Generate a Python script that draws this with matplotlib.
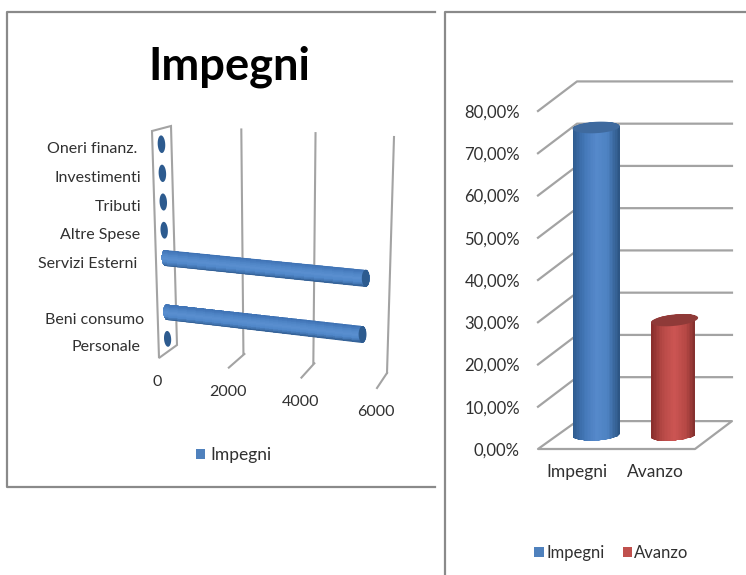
import numpy as np
import matplotlib
matplotlib.use('Agg')
import matplotlib.pyplot as plt
from matplotlib.colors import LinearSegmentedColormap
from matplotlib.patches import Patch, Polygon
from matplotlib.path import Path
from matplotlib.transforms import Transform

plt.rcParams['font.family'] = ['Lato', 'DejaVu Sans']

# left chart
categories = ['Personale', 'Beni consumo', '', 'Servizi Esterni', 'Altre Spese',
              'Tributi', 'Investimenti', 'Oneri finanz.']
impegni = [0, 5450, None, 5500, 0, 0, 0, 0]
value_ticks = [0, 2000, 4000, 6000]

# right chart
share_names = ['Impegni', 'Avanzo']
share_values = [72.8, 27.2]
share_ticks = [0, 10, 20, 30, 40, 50, 60, 70, 80]

TEXT = '#303030'
GRID = '#a3a3a3'
FRAME = '#8a8a8a'
BLUE = '#4f81bd'
RED = '#c0504d'
blue_side = LinearSegmentedColormap.from_list('b', ['#2f5c90', '#4478b8', '#5689cb', '#4d82c2', '#2d5685'])
red_side = LinearSegmentedColormap.from_list('r', ['#8a2f2d', '#b84a47', '#cc5553', '#b64845', '#752927'])
blue_bar = LinearSegmentedColormap.from_list('bb', ['#2f5c90', '#4f86c8', '#5a8fd0', '#4f85c6', '#3f73b5'])


class PlaneTransform(Transform):
    # perspective mapping of a rectangle of data onto a four sided shape
    input_dims = 2
    output_dims = 2
    is_affine = False

    def __init__(self, xr, yr, corners):
        super().__init__()
        src = [(xr[0], yr[0]), (xr[1], yr[0]), (xr[0], yr[1]), (xr[1], yr[1])]
        a, b = [], []
        for (x, y), (u, v) in zip(src, corners):
            a.append([x, y, 1, 0, 0, 0, -u * x, -u * y])
            a.append([0, 0, 0, x, y, 1, -v * x, -v * y])
            b += [u, v]
        self.h = np.append(np.linalg.solve(np.array(a, float), np.array(b, float)), 1).reshape(3, 3)

    def transform_non_affine(self, values):
        vals = np.ma.getdata(values).astype(float)
        pts = np.column_stack([vals, np.ones(len(vals))]) @ self.h.T
        return pts[:, :2] / pts[:, 2:]


fig = plt.figure(figsize=(7.46, 5.75), dpi=100)
ax = fig.add_axes([0, 0, 1, 1])
ax.set_xlim(0, 746)
ax.set_ylim(575, 0)
ax.axis('off')

# frames around the two charts
ax.plot([435, 7, 7, 435], [12, 12, 487, 487], color=FRAME, lw=1.6)
ax.plot([746, 445, 445], [12, 12, 575], color=FRAME, lw=1.6)

ax.text(229.5, 80, 'Impegni', fontsize=32.6, fontweight='bold', color='black', ha='center', va='baseline')

n = len(categories)
back = PlaneTransform((0, 6000), (0, n), [(177, 345), (387, 373), (171, 126), (394, 137)]) + ax.transData
floor = PlaneTransform((0, 6000), (0, 1), [(159, 358), (377, 388), (177, 345), (387, 373)]) + ax.transData
wall = PlaneTransform((0, 1), (0, n), [(159, 358), (177, 345), (152, 131), (171, 126)]) + ax.transData
mid = PlaneTransform((0, 6000), (0, n), [(168, 352), (382, 378), (161, 129.5), (389, 146)]) + ax.transData

# side wall, then the value gridlines with their ticks on the floor
ax.add_patch(Polygon([(0, 0), (1, 0), (1, n), (0, n)], closed=True, fc='white', ec=GRID, lw=1.5,
                     transform=wall, zorder=2))
for t in value_ticks[1:]:
    ax.plot([t, t], [0, n], color=GRID, lw=1.5, transform=back, zorder=1)
    ax.plot([t, t], [0, 1], color=GRID, lw=1.5, transform=floor, zorder=1)
for t in value_ticks:
    ax.annotate(str(t), xy=(t, 0), xycoords=floor, xytext=(-1, -17.5), textcoords='offset points',
                ha='center', va='center', fontsize=11.5, color=TEXT)

label_nudge = [0, 3.3, 0, -0.5, 2, 3.6, 4, 2]
for i, name in enumerate(categories):
    ax.annotate(name, xy=(0, i + 0.5), xycoords=wall, xytext=(-13 + label_nudge[i], -2),
                textcoords='offset points', ha='right', va='center', fontsize=11.5, color=TEXT)

# bars are lying cylinders, zero values leave only the end disc
cap_v, half = 105, 0.3
t = np.linspace(0, 2 * np.pi, 60)
for i, val in enumerate(impegni):
    if val is None:
        continue
    c = i + 0.5
    if val > 0:
        up = np.linspace(np.pi / 2, 3 * np.pi / 2, 30)
        down = np.linspace(-np.pi / 2, np.pi / 2, 30)
        xs = np.r_[cap_v * np.cos(up), val + cap_v * np.cos(down)]
        ys = np.r_[c + half * np.sin(up), c + half * np.sin(down)]
        mesh = ax.pcolormesh(np.linspace(-200, val + 200, 2), np.linspace(c - half, c + half, 25),
                             np.linspace(0, 1, 24).reshape(-1, 1), cmap=blue_bar, shading='flat',
                             transform=mid, zorder=3)
        mesh.set_clip_path(Path(np.column_stack([xs, ys])), mid)
    ax.add_patch(Polygon(np.column_stack([val + cap_v * np.cos(t), c + half * np.sin(t)]), closed=True,
                         fc='#2d5b8f', ec='none', transform=mid, zorder=4))
ax.set_xlim(0, 746)
ax.set_ylim(575, 0)

ax.legend(handles=[Patch(fc=BLUE, label='Impegni')], loc='center', bbox_to_anchor=(233.5, 455),
          bbox_transform=ax.transData, frameon=False, fontsize=12.5, labelcolor=TEXT,
          handlelength=0.55, handleheight=0.55, handletextpad=0.3, borderpad=0)

# column chart: the axes box is the front of the floor, the rest is offset by depth
ax2 = fig.add_axes([538 / 746, 1 - 449 / 575, 157 / 746, 338 / 575])
ax2.patch.set_visible(False)
for s in ax2.spines.values():
    s.set_visible(False)
ax2.set_yticks(share_ticks)
ax2.set_yticklabels(['%d,00%%' % v for v in share_ticks], fontsize=12, color=TEXT)
ax2.set_xticks([0.5, 1.5])
ax2.set_xticklabels(share_names, fontsize=12.5, color=TEXT)
ax2.tick_params(length=0, axis='y', pad=13)
ax2.tick_params(length=0, axis='x', pad=11)

dx, dy = 0.497, 7.0
x_back = 2.471
for v in share_ticks[1:]:
    ax2.plot([0, dx, x_back], [v, v + dy, v + dy], color=GRID, lw=1.6, clip_on=False, zorder=1)
ax2.plot([dx, 0, 2, x_back, dx], [6.6, 0, 0, 6.6, 6.6], color=GRID, lw=1.6, clip_on=False, zorder=1)

# upright cylinders, shaded from side to side
radius_x, radius_y, base = 0.3, 1.35, 3.3
cylinder_tilt = [0.3, 0.55]
styles = [(blue_side, '#3f6a9e'), (red_side, '#8f3a38')]
for i, val in enumerate(share_values):
    cx = i + 0.74
    tilt = cylinder_tilt[i]
    top = val + base
    low = np.linspace(np.pi, 2 * np.pi, 40)
    high = np.linspace(0, np.pi, 40)
    xs = np.r_[cx + radius_x * np.cos(low), cx + radius_x * np.cos(high)]
    ys = np.r_[base + radius_y * np.sin(low) + tilt * np.cos(low),
               top + radius_y * np.sin(high) + tilt * np.cos(high)]
    cmap, lid = styles[i]
    body = ax2.pcolormesh(np.linspace(cx - radius_x, cx + radius_x, 31), [0, top + 4],
                          np.linspace(0, 1, 30).reshape(1, -1), cmap=cmap, shading='flat', zorder=3)
    body.set_clip_path(Path(np.column_stack([xs, ys])), ax2.transData)
    ax2.add_patch(Polygon(np.column_stack([cx + radius_x * np.cos(t),
                                           top + radius_y * np.sin(t) + tilt * np.cos(t)]),
                          closed=True, fc=lid, ec='none', zorder=4, clip_on=False))
ax2.set_xlim(0, 2)
ax2.set_ylim(0, 80)

ax2.legend(handles=[Patch(fc=BLUE, label=share_names[0]), Patch(fc=RED, label=share_names[1])],
           loc='center', bbox_to_anchor=(611.5, 553), bbox_transform=ax.transData, ncol=2, frameon=False,
           fontsize=12, labelcolor=TEXT, handlelength=0.55, handleheight=0.55, handletextpad=0.15,
           columnspacing=1.1, borderpad=0)

fig.savefig('out.png', dpi=100)
